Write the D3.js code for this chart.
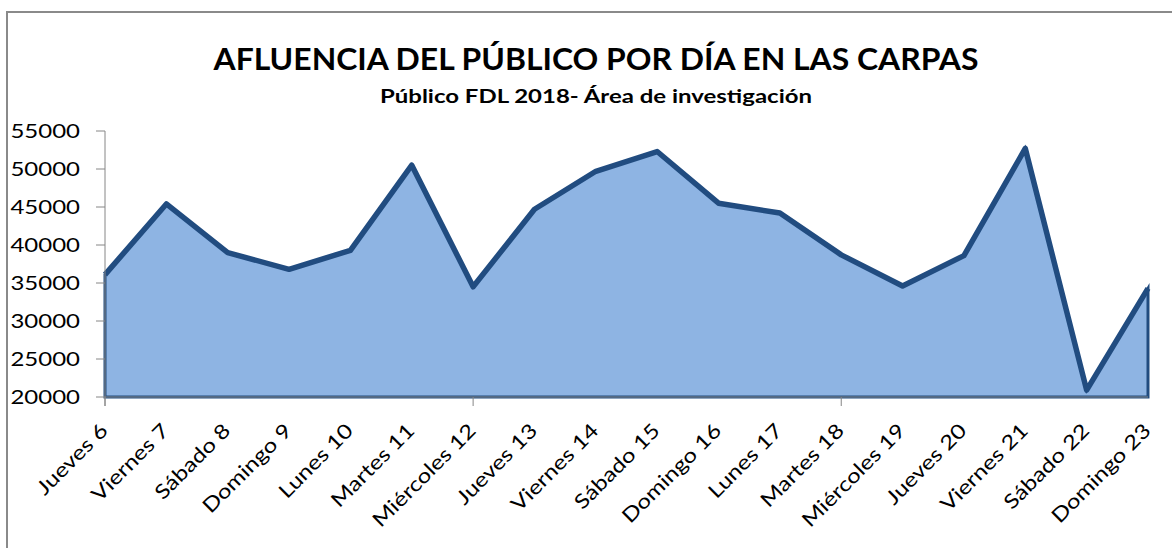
<!DOCTYPE html>
<html lang="es">
<head>
<meta charset="UTF-8">
<title>Afluencia del público</title>
<script src="https://d3js.org/d3.v7.min.js"></script>
<style>
  body { margin: 0; background: #fff; }
  text { font-family: Lato, "Open Sans", sans-serif; fill: #000; }
</style>
</head>
<body>
<svg></svg>
<script>
const days = ["Jueves 6", "Viernes 7", "Sábado 8", "Domingo 9", "Lunes 10", "Martes 11",
  "Miércoles 12", "Jueves 13", "Viernes 14", "Sábado 15", "Domingo 16", "Lunes 17",
  "Martes 18", "Miércoles 19", "Jueves 20", "Viernes 21", "Sábado 22", "Domingo 23"];
const visitors = [36100, 45400, 39000, 36800, 39300, 50500,
  34500, 44700, 49700, 52300, 45500, 44200,
  38700, 34600, 38600, 52700, 20900, 34300];
const yTicks = [20000, 25000, 30000, 35000, 40000, 45000, 50000, 55000];

const W = 1172, H = 548;
const svg = d3.select("svg").attr("width", W).attr("height", H);

// chart frame (cut off on the right and bottom)
svg.append("rect")
  .attr("x", 7).attr("y", 12).attr("width", 1300).attr("height", 700)
  .attr("fill", "none").attr("stroke", "#8a8a8a").attr("stroke-width", 2);

svg.append("text")
  .attr("x", 596).attr("y", 70)
  .attr("text-anchor", "middle")
  .attr("font-size", 30).attr("font-weight", "bold")
  .attr("textLength", 765).attr("lengthAdjust", "spacingAndGlyphs")
  .text("AFLUENCIA DEL PÚBLICO POR DÍA EN LAS CARPAS");

svg.append("text")
  .attr("x", 596).attr("y", 103)
  .attr("text-anchor", "middle")
  .attr("font-size", 19).attr("font-weight", "bold")
  .attr("textLength", 432).attr("lengthAdjust", "spacingAndGlyphs")
  .text("Público FDL 2018- Área de investigación");

const x = d3.scalePoint().domain(days).range([105, 1148]);
const y = d3.scaleLinear().domain([20000, 55000]).range([397, 131]);
const sx = 1.2; // the source font is wider than what we have

const area = d3.area()
  .x((d, i) => x(days[i]))
  .y0(y(20000))
  .y1(d => y(d));
const line = d3.line()
  .x((d, i) => x(days[i]))
  .y(d => y(d));

svg.append("path")
  .datum(visitors)
  .attr("d", area)
  .attr("fill", "#8eb4e3")
  .attr("stroke", "#214c80")
  .attr("stroke-width", 3);

svg.append("path")
  .datum(visitors)
  .attr("d", line)
  .attr("fill", "none")
  .attr("stroke", "#214c80")
  .attr("stroke-width", 5.5)
  .attr("stroke-linejoin", "round");

// y axis
const gy = svg.append("g");
gy.append("line")
  .attr("x1", 105).attr("x2", 105)
  .attr("y1", y(55000)).attr("y2", 406)
  .attr("stroke", "#868686");
gy.selectAll(".tick")
  .data(yTicks)
  .join("line")
  .attr("x1", 96).attr("x2", 105)
  .attr("y1", d => y(d)).attr("y2", d => y(d))
  .attr("stroke", "#868686");
gy.selectAll("text")
  .data(yTicks)
  .join("text")
  .attr("text-anchor", "end")
  .attr("font-size", 20)
  .attr("transform", d => `translate(80,${y(d) + 7}) scale(${sx},1)`)
  .text(d => d);

// x axis
const gx = svg.append("g");
gx.append("line")
  .attr("x1", 105).attr("x2", 1148)
  .attr("y1", 397).attr("y2", 397)
  .attr("stroke", "#868686");
gx.selectAll(".tick")
  .data(days.filter((d, i) => i % 6 === 0))
  .join("line")
  .attr("x1", d => x(d)).attr("x2", d => x(d))
  .attr("y1", 397).attr("y2", 406)
  .attr("stroke", "#868686");
gx.selectAll("text")
  .data(days)
  .join("text")
  .attr("text-anchor", "end")
  .attr("font-size", 20)
  .attr("transform", d => `translate(${x(d) + 4},432) rotate(-45) scale(${sx},1)`)
  .text(d => d);
</script>
</body>
</html>
